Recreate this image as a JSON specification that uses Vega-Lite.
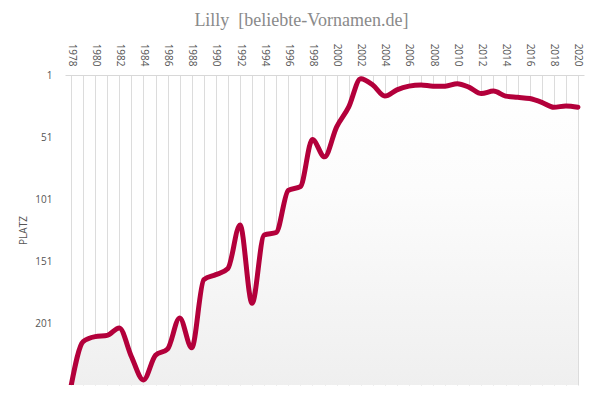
{
  "$schema": "https://vega.github.io/schema/vega-lite/v6.json",
  "background": "white",
  "autosize": "none",
  "width": 519,
  "height": 310,
  "padding": {"left": 65, "top": 75, "right": 14, "bottom": 15},
  "title": {
    "text": "Lilly \u00a0[beliebte-Vornamen.de]",
    "font": "Liberation Serif",
    "fontSize": 18,
    "fontWeight": "normal",
    "color": "#8a8a8a",
    "anchor": "middle",
    "frame": "bounds",
    "offset": 13
  },
  "data": {
    "values": [
      {"year": 1978, "rank": 252},
      {"year": 1979, "rank": 216},
      {"year": 1980, "rank": 212},
      {"year": 1981, "rank": 211},
      {"year": 1982, "rank": 205},
      {"year": 1983, "rank": 228},
      {"year": 1984, "rank": 247},
      {"year": 1985, "rank": 227},
      {"year": 1986, "rank": 222},
      {"year": 1987, "rank": 197},
      {"year": 1988, "rank": 221},
      {"year": 1989, "rank": 166},
      {"year": 1990, "rank": 162},
      {"year": 1991, "rank": 157},
      {"year": 1992, "rank": 122},
      {"year": 1993, "rank": 185},
      {"year": 1994, "rank": 130},
      {"year": 1995, "rank": 128},
      {"year": 1996, "rank": 94},
      {"year": 1997, "rank": 91},
      {"year": 1998, "rank": 53},
      {"year": 1999, "rank": 67},
      {"year": 2000, "rank": 43},
      {"year": 2001, "rank": 27},
      {"year": 2002, "rank": 4},
      {"year": 2003, "rank": 9},
      {"year": 2004, "rank": 18},
      {"year": 2005, "rank": 13},
      {"year": 2006, "rank": 10},
      {"year": 2007, "rank": 9},
      {"year": 2008, "rank": 10},
      {"year": 2009, "rank": 10},
      {"year": 2010, "rank": 8},
      {"year": 2011, "rank": 11},
      {"year": 2012, "rank": 16},
      {"year": 2013, "rank": 14},
      {"year": 2014, "rank": 18},
      {"year": 2015, "rank": 19},
      {"year": 2016, "rank": 20},
      {"year": 2017, "rank": 23},
      {"year": 2018, "rank": 27},
      {"year": 2019, "rank": 26},
      {"year": 2020, "rank": 27}
    ]
  },
  "encoding": {
    "x": {
      "field": "year",
      "type": "quantitative",
      "scale": {"domain": [1977.5, 2020.5], "nice": false, "zero": false},
      "axis": {
        "orient": "top",
        "title": null,
        "values": [1978, 1979, 1980, 1981, 1982, 1983, 1984, 1985, 1986, 1987, 1988, 1989, 1990, 1991, 1992, 1993, 1994, 1995, 1996, 1997, 1998, 1999, 2000, 2001, 2002, 2003, 2004, 2005, 2006, 2007, 2008, 2009, 2010, 2011, 2012, 2013, 2014, 2015, 2016, 2017, 2018, 2019, 2020],
        "labelExpr": "datum.value % 2 == 0 ? format(datum.value, 'd') : ''",
        "labelAngle": 90,
        "labelAlign": "right",
        "labelBaseline": "middle",
        "labelPadding": 9,
        "labelOverlap": false,
        "labelFlush": false,
        "labelFont": "Open Sans",
        "labelFontSize": 10,
        "labelColor": "#555555",
        "ticks": false,
        "grid": true,
        "gridColor": "#dcdcdc",
        "gridWidth": 1,
        "domain": true,
        "domainColor": "#d8d8d8"
      }
    },
    "y": {
      "field": "rank",
      "type": "quantitative",
      "scale": {"domain": [1, 251], "reverse": true, "nice": false, "zero": false},
      "axis": {
        "title": "PLATZ",
        "titleFont": "Open Sans",
        "titleFontSize": 10,
        "titleFontWeight": "normal",
        "titleColor": "#555555",
        "titlePadding": 6,
        "values": [1, 51, 101, 151, 201],
        "format": "d",
        "labelFont": "Open Sans",
        "labelFontSize": 10,
        "labelColor": "#555555",
        "labelPadding": 13,
        "ticks": false,
        "domain": false,
        "grid": false
      }
    }
  },
  "layer": [
    {
      "mark": {
        "type": "area",
        "interpolate": "monotone",
        "clip": true,
        "fill": {
          "gradient": "linear",
          "x1": 0, "y1": 0, "x2": 0, "y2": 1,
          "stops": [
            {"offset": 0, "color": "#ffffff"},
            {"offset": 0.35, "color": "#fcfcfc"},
            {"offset": 1, "color": "#efefef"}
          ]
        }
      },
      "encoding": {
        "y2": {"datum": 251}
      }
    },
    {
      "mark": {
        "type": "line",
        "interpolate": "monotone",
        "clip": true,
        "color": "#b3003b",
        "strokeWidth": 5,
        "strokeCap": "round",
        "strokeJoin": "round"
      }
    }
  ],
  "config": {
    "view": {"stroke": null}
  }
}
